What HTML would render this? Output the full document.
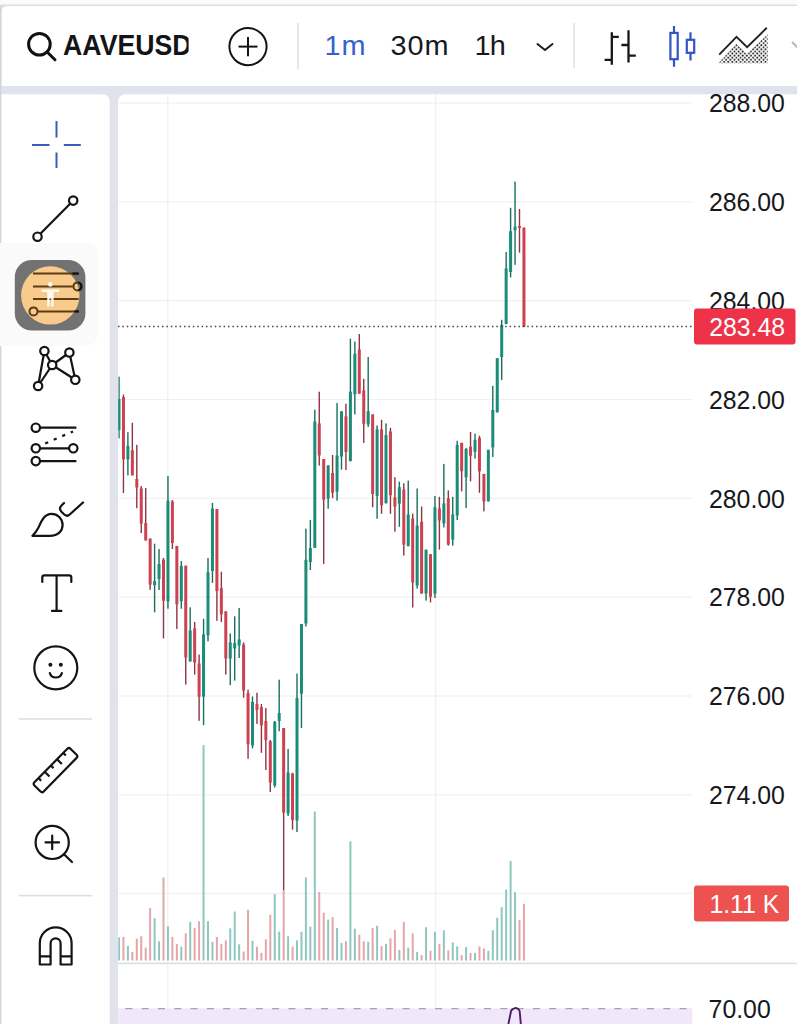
<!DOCTYPE html>
<html><head><meta charset="utf-8"><title>AAVEUSD</title>
<style>
html,body{margin:0;padding:0;background:#fff;}
body{width:797px;height:1024px;overflow:hidden;position:relative;font-family:"Liberation Sans",sans-serif;}
svg{position:absolute;left:0;top:0;display:block}
text{font-family:"Liberation Sans",sans-serif;}
.ax{font-size:26px;fill:#16181d}
.tf{font-size:27.5px;fill:#16181d}
</style></head><body>
<svg width="797" height="1024" viewBox="0 0 797 1024">
<defs>
<pattern id="dots" x="718.86" y="60.86" width="4.15" height="4.15" patternUnits="userSpaceOnUse">
<circle cx="1.04" cy="1.04" r="0.95" fill="#1c1c1c"/><circle cx="3.11" cy="3.11" r="0.95" fill="#1c1c1c"/>
</pattern>
<clipPath id="cp"><rect x="118.3" y="94" width="574" height="930"/></clipPath>
</defs>
<!-- page background -->
<rect x="0" y="0" width="797" height="1024" fill="#e0e3eb"/>
<rect x="0" y="0" width="797" height="5" fill="#fbfbfb"/>
<rect x="0" y="4.6" width="797" height="1.8" fill="#dcdcde"/>
<!-- header -->
<path d="M1.5 86 V12 Q1.5 6 8 6 H797 V86 Z" fill="#fff"/>
<rect x="0" y="6" width="1.5" height="1018" fill="#d6d6d9"/>
<!-- left toolbar panel -->
<path d="M1.5 94.3 H101.8 Q109.8 94.3 109.8 102.3 V1024 H1.5 Z" fill="#fff"/>
<!-- chart panel -->
<path d="M118 1024 V102.3 Q118 94.3 126 94.3 H797 V1024 Z" fill="#fff"/>
<!-- grid -->
<rect x="118.3" y="102.4" width="573.7" height="1.2" fill="#f0f0f2"/>
<rect x="118.3" y="201.2" width="573.7" height="1.2" fill="#f0f0f2"/>
<rect x="118.3" y="300.1" width="573.7" height="1.2" fill="#f0f0f2"/>
<rect x="118.3" y="398.9" width="573.7" height="1.2" fill="#f0f0f2"/>
<rect x="118.3" y="497.7" width="573.7" height="1.2" fill="#f0f0f2"/>
<rect x="118.3" y="596.5" width="573.7" height="1.2" fill="#f0f0f2"/>
<rect x="118.3" y="695.4" width="573.7" height="1.2" fill="#f0f0f2"/>
<rect x="118.3" y="794.2" width="573.7" height="1.2" fill="#f0f0f2"/>
<rect x="118.3" y="892.8" width="573.7" height="1.2" fill="#f0f0f2"/>
<rect x="167.2" y="94" width="1.2" height="930" fill="#f0f0f2"/>
<rect x="435.0" y="94" width="1.2" height="930" fill="#f0f0f2"/>
<!-- RSI pane -->
<rect x="118.3" y="1008.4" width="574" height="16" fill="#f1e6fa"/>
<line x1="118" y1="1008.6" x2="692.3" y2="1008.6" stroke="#a3a3ac" stroke-width="1.1" stroke-dasharray="7 9.3" stroke-dashoffset="8.9"/>
<path d="M508.4 1024 L511 1011.3 Q511.5 1009.6 513 1009 L515 1008.1 Q516.2 1007.8 517.4 1008.5 L519 1009.8 Q519.6 1010.4 519.7 1011.5 L520.8 1024" fill="none" stroke="#4b1d63" stroke-width="1.9" stroke-linejoin="round"/>
<!-- separator pane line -->
<rect x="118" y="962.6" width="679" height="1.6" fill="#d9dee2"/>
<!-- chart content -->
<g clip-path="url(#cp)">
<rect x="118.00" y="937.3" width="2" height="23.2" fill="#8fc7bf"/>
<rect x="122.45" y="936.9" width="2" height="23.6" fill="#e6a5aa"/>
<rect x="126.90" y="945.9" width="2" height="14.6" fill="#8fc7bf"/>
<rect x="131.35" y="952.0" width="2" height="8.5" fill="#e6a5aa"/>
<rect x="135.80" y="938.7" width="2" height="21.8" fill="#e6a5aa"/>
<rect x="140.25" y="936.3" width="2" height="24.2" fill="#e6a5aa"/>
<rect x="144.70" y="947.7" width="2" height="12.8" fill="#e6a5aa"/>
<rect x="149.15" y="908.2" width="2" height="52.3" fill="#e6a5aa"/>
<rect x="153.60" y="918.2" width="2" height="42.3" fill="#8fc7bf"/>
<rect x="158.05" y="941.3" width="2" height="19.2" fill="#8fc7bf"/>
<rect x="162.50" y="877.5" width="2" height="83.0" fill="#e6a5aa"/>
<rect x="166.95" y="926.3" width="2" height="34.2" fill="#8fc7bf"/>
<rect x="171.40" y="936.9" width="2" height="23.6" fill="#e6a5aa"/>
<rect x="175.85" y="943.9" width="2" height="16.6" fill="#e6a5aa"/>
<rect x="180.30" y="946.7" width="2" height="13.8" fill="#8fc7bf"/>
<rect x="184.75" y="933.3" width="2" height="27.2" fill="#e6a5aa"/>
<rect x="189.20" y="921.8" width="2" height="38.7" fill="#8fc7bf"/>
<rect x="193.65" y="927.9" width="2" height="32.6" fill="#e6a5aa"/>
<rect x="198.10" y="921.2" width="2" height="39.3" fill="#e6a5aa"/>
<rect x="202.55" y="745.0" width="2" height="215.5" fill="#8fc7bf"/>
<rect x="207.00" y="921.2" width="2" height="39.3" fill="#8fc7bf"/>
<rect x="211.45" y="941.9" width="2" height="18.6" fill="#8fc7bf"/>
<rect x="215.90" y="936.9" width="2" height="23.6" fill="#e6a5aa"/>
<rect x="220.35" y="943.9" width="2" height="16.6" fill="#e6a5aa"/>
<rect x="224.80" y="940.3" width="2" height="20.2" fill="#e6a5aa"/>
<rect x="229.25" y="928.3" width="2" height="32.2" fill="#8fc7bf"/>
<rect x="233.70" y="911.6" width="2" height="48.9" fill="#8fc7bf"/>
<rect x="238.15" y="944.3" width="2" height="16.2" fill="#8fc7bf"/>
<rect x="242.60" y="951.4" width="2" height="9.1" fill="#e6a5aa"/>
<rect x="247.05" y="909.8" width="2" height="50.7" fill="#e6a5aa"/>
<rect x="251.50" y="940.7" width="2" height="19.8" fill="#8fc7bf"/>
<rect x="255.95" y="946.7" width="2" height="13.8" fill="#e6a5aa"/>
<rect x="260.40" y="952.8" width="2" height="7.7" fill="#e6a5aa"/>
<rect x="264.85" y="939.3" width="2" height="21.2" fill="#e6a5aa"/>
<rect x="269.30" y="914.7" width="2" height="45.8" fill="#e6a5aa"/>
<rect x="273.75" y="894.1" width="2" height="66.4" fill="#8fc7bf"/>
<rect x="278.20" y="931.7" width="2" height="28.8" fill="#8fc7bf"/>
<rect x="282.65" y="890.0" width="2" height="70.5" fill="#e6a5aa"/>
<rect x="287.10" y="936.3" width="2" height="24.2" fill="#8fc7bf"/>
<rect x="291.55" y="946.7" width="2" height="13.8" fill="#e6a5aa"/>
<rect x="296.00" y="940.3" width="2" height="20.2" fill="#8fc7bf"/>
<rect x="300.45" y="931.7" width="2" height="28.8" fill="#8fc7bf"/>
<rect x="304.90" y="877.5" width="2" height="83.0" fill="#8fc7bf"/>
<rect x="309.35" y="926.7" width="2" height="33.8" fill="#8fc7bf"/>
<rect x="313.80" y="811.6" width="2" height="148.9" fill="#8fc7bf"/>
<rect x="318.25" y="892.1" width="2" height="68.4" fill="#e6a5aa"/>
<rect x="322.70" y="912.6" width="2" height="47.9" fill="#e6a5aa"/>
<rect x="327.15" y="919.6" width="2" height="40.9" fill="#8fc7bf"/>
<rect x="331.60" y="917.2" width="2" height="43.3" fill="#e6a5aa"/>
<rect x="336.05" y="927.9" width="2" height="32.6" fill="#8fc7bf"/>
<rect x="340.50" y="942.9" width="2" height="17.6" fill="#8fc7bf"/>
<rect x="344.95" y="941.3" width="2" height="19.2" fill="#e6a5aa"/>
<rect x="349.40" y="841.3" width="2" height="119.2" fill="#8fc7bf"/>
<rect x="353.85" y="928.7" width="2" height="31.8" fill="#8fc7bf"/>
<rect x="358.30" y="934.7" width="2" height="25.8" fill="#e6a5aa"/>
<rect x="362.75" y="941.3" width="2" height="19.2" fill="#e6a5aa"/>
<rect x="367.20" y="941.7" width="2" height="18.8" fill="#8fc7bf"/>
<rect x="371.65" y="927.9" width="2" height="32.6" fill="#e6a5aa"/>
<rect x="376.10" y="925.7" width="2" height="34.8" fill="#8fc7bf"/>
<rect x="380.55" y="946.3" width="2" height="14.2" fill="#e6a5aa"/>
<rect x="385.00" y="943.9" width="2" height="16.6" fill="#8fc7bf"/>
<rect x="389.45" y="938.3" width="2" height="22.2" fill="#e6a5aa"/>
<rect x="393.90" y="929.9" width="2" height="30.6" fill="#e6a5aa"/>
<rect x="398.35" y="950.0" width="2" height="10.5" fill="#8fc7bf"/>
<rect x="402.80" y="921.8" width="2" height="38.7" fill="#e6a5aa"/>
<rect x="407.25" y="947.7" width="2" height="12.8" fill="#8fc7bf"/>
<rect x="411.70" y="933.3" width="2" height="27.2" fill="#e6a5aa"/>
<rect x="416.15" y="952.0" width="2" height="8.5" fill="#8fc7bf"/>
<rect x="420.60" y="955.0" width="2" height="5.5" fill="#e6a5aa"/>
<rect x="425.05" y="927.3" width="2" height="33.2" fill="#8fc7bf"/>
<rect x="429.50" y="950.7" width="2" height="9.8" fill="#e6a5aa"/>
<rect x="433.95" y="931.7" width="2" height="28.8" fill="#8fc7bf"/>
<rect x="438.40" y="943.8" width="2" height="16.7" fill="#e6a5aa"/>
<rect x="442.85" y="930.3" width="2" height="30.2" fill="#8fc7bf"/>
<rect x="447.30" y="950.4" width="2" height="10.1" fill="#e6a5aa"/>
<rect x="451.75" y="942.4" width="2" height="18.1" fill="#8fc7bf"/>
<rect x="456.20" y="946.4" width="2" height="14.1" fill="#8fc7bf"/>
<rect x="460.65" y="955.0" width="2" height="5.5" fill="#e6a5aa"/>
<rect x="465.10" y="947.0" width="2" height="13.5" fill="#8fc7bf"/>
<rect x="469.55" y="953.0" width="2" height="7.5" fill="#e6a5aa"/>
<rect x="474.00" y="953.0" width="2" height="7.5" fill="#8fc7bf"/>
<rect x="478.45" y="946.4" width="2" height="14.1" fill="#e6a5aa"/>
<rect x="482.90" y="948.4" width="2" height="12.1" fill="#e6a5aa"/>
<rect x="487.35" y="950.8" width="2" height="9.7" fill="#8fc7bf"/>
<rect x="491.80" y="930.3" width="2" height="30.2" fill="#8fc7bf"/>
<rect x="496.25" y="917.7" width="2" height="42.8" fill="#8fc7bf"/>
<rect x="500.70" y="907.2" width="2" height="53.3" fill="#8fc7bf"/>
<rect x="505.15" y="889.6" width="2" height="70.9" fill="#8fc7bf"/>
<rect x="509.60" y="861.0" width="2" height="99.5" fill="#8fc7bf"/>
<rect x="514.05" y="892.2" width="2" height="68.3" fill="#8fc7bf"/>
<rect x="518.50" y="919.9" width="2" height="40.6" fill="#e6a5aa"/>
<rect x="522.95" y="903.8" width="2" height="56.7" fill="#e6a5aa"/>
<rect x="118.30" y="376.6" width="1.4" height="61.7" fill="#17705f"/>
<rect x="117.50" y="399.0" width="3" height="31.0" fill="#1a8c78"/>
<rect x="122.75" y="394.5" width="1.4" height="98.5" fill="#8f3441"/>
<rect x="121.95" y="397.0" width="3" height="62.4" fill="#cc4252"/>
<rect x="127.20" y="432.2" width="1.4" height="43.2" fill="#17705f"/>
<rect x="126.40" y="445.9" width="3" height="13.5" fill="#1a8c78"/>
<rect x="131.65" y="422.8" width="1.4" height="52.6" fill="#8f3441"/>
<rect x="130.85" y="450.3" width="3" height="25.1" fill="#cc4252"/>
<rect x="136.10" y="444.9" width="1.4" height="63.3" fill="#8f3441"/>
<rect x="135.30" y="479.0" width="3" height="8.5" fill="#cc4252"/>
<rect x="140.55" y="486.0" width="1.4" height="47.0" fill="#8f3441"/>
<rect x="139.75" y="488.5" width="3" height="35.1" fill="#cc4252"/>
<rect x="145.00" y="488.0" width="1.4" height="52.7" fill="#8f3441"/>
<rect x="144.20" y="523.0" width="3" height="17.3" fill="#cc4252"/>
<rect x="149.45" y="538.6" width="1.4" height="51.2" fill="#8f3441"/>
<rect x="148.65" y="538.6" width="3" height="46.0" fill="#cc4252"/>
<rect x="153.90" y="543.7" width="1.4" height="68.6" fill="#17705f"/>
<rect x="153.10" y="581.2" width="3" height="4.0" fill="#1a8c78"/>
<rect x="158.35" y="549.0" width="1.4" height="41.0" fill="#17705f"/>
<rect x="157.55" y="564.0" width="3" height="15.0" fill="#1a8c78"/>
<rect x="162.80" y="558.0" width="1.4" height="80.4" fill="#8f3441"/>
<rect x="162.00" y="559.7" width="3" height="41.0" fill="#cc4252"/>
<rect x="167.25" y="476.0" width="1.4" height="132.7" fill="#17705f"/>
<rect x="166.45" y="500.5" width="3" height="100.8" fill="#1a8c78"/>
<rect x="171.70" y="500.0" width="1.4" height="49.0" fill="#8f3441"/>
<rect x="170.90" y="501.5" width="3" height="41.5" fill="#cc4252"/>
<rect x="176.15" y="546.0" width="1.4" height="83.0" fill="#8f3441"/>
<rect x="175.35" y="546.0" width="3" height="58.3" fill="#cc4252"/>
<rect x="180.60" y="561.0" width="1.4" height="47.7" fill="#17705f"/>
<rect x="179.80" y="566.0" width="3" height="35.3" fill="#1a8c78"/>
<rect x="185.05" y="565.7" width="1.4" height="118.9" fill="#8f3441"/>
<rect x="184.25" y="565.7" width="3" height="91.8" fill="#cc4252"/>
<rect x="189.50" y="607.3" width="1.4" height="54.2" fill="#17705f"/>
<rect x="188.70" y="630.4" width="3" height="31.1" fill="#1a8c78"/>
<rect x="193.95" y="622.0" width="1.4" height="52.6" fill="#8f3441"/>
<rect x="193.15" y="628.4" width="3" height="34.1" fill="#cc4252"/>
<rect x="198.40" y="654.5" width="1.4" height="66.3" fill="#8f3441"/>
<rect x="197.60" y="663.5" width="3" height="33.2" fill="#cc4252"/>
<rect x="202.85" y="618.8" width="1.4" height="106.4" fill="#17705f"/>
<rect x="202.05" y="634.4" width="3" height="62.3" fill="#1a8c78"/>
<rect x="207.30" y="558.0" width="1.4" height="83.4" fill="#17705f"/>
<rect x="206.50" y="572.2" width="3" height="63.2" fill="#1a8c78"/>
<rect x="211.75" y="503.0" width="1.4" height="80.0" fill="#17705f"/>
<rect x="210.95" y="508.6" width="3" height="62.4" fill="#1a8c78"/>
<rect x="216.20" y="509.0" width="1.4" height="111.8" fill="#8f3441"/>
<rect x="215.40" y="509.0" width="3" height="82.0" fill="#cc4252"/>
<rect x="220.65" y="571.8" width="1.4" height="50.2" fill="#8f3441"/>
<rect x="219.85" y="588.2" width="3" height="26.1" fill="#cc4252"/>
<rect x="225.10" y="611.3" width="1.4" height="63.3" fill="#8f3441"/>
<rect x="224.30" y="611.3" width="3" height="47.2" fill="#cc4252"/>
<rect x="229.55" y="633.4" width="1.4" height="51.8" fill="#17705f"/>
<rect x="228.75" y="642.4" width="3" height="16.1" fill="#1a8c78"/>
<rect x="234.00" y="616.3" width="1.4" height="64.3" fill="#17705f"/>
<rect x="233.20" y="643.0" width="3" height="5.5" fill="#1a8c78"/>
<rect x="238.45" y="608.0" width="1.4" height="50.0" fill="#17705f"/>
<rect x="237.65" y="639.4" width="3" height="6.1" fill="#1a8c78"/>
<rect x="242.90" y="642.4" width="1.4" height="55.3" fill="#8f3441"/>
<rect x="242.10" y="644.5" width="3" height="46.1" fill="#cc4252"/>
<rect x="247.35" y="689.7" width="1.4" height="69.1" fill="#8f3441"/>
<rect x="246.55" y="693.0" width="3" height="51.3" fill="#cc4252"/>
<rect x="251.80" y="696.5" width="1.4" height="51.9" fill="#17705f"/>
<rect x="251.00" y="702.0" width="3" height="43.3" fill="#1a8c78"/>
<rect x="256.25" y="692.7" width="1.4" height="31.2" fill="#8f3441"/>
<rect x="255.45" y="704.0" width="3" height="6.0" fill="#cc4252"/>
<rect x="260.70" y="704.0" width="1.4" height="48.8" fill="#8f3441"/>
<rect x="259.90" y="707.0" width="3" height="18.3" fill="#cc4252"/>
<rect x="265.15" y="708.0" width="1.4" height="62.0" fill="#8f3441"/>
<rect x="264.35" y="721.0" width="3" height="19.0" fill="#cc4252"/>
<rect x="269.60" y="740.0" width="1.4" height="52.0" fill="#8f3441"/>
<rect x="268.80" y="741.3" width="3" height="41.2" fill="#cc4252"/>
<rect x="274.05" y="721.0" width="1.4" height="66.5" fill="#17705f"/>
<rect x="273.25" y="721.8" width="3" height="63.7" fill="#1a8c78"/>
<rect x="278.50" y="679.7" width="1.4" height="51.6" fill="#17705f"/>
<rect x="277.70" y="713.0" width="3" height="8.0" fill="#1a8c78"/>
<rect x="282.95" y="728.0" width="1.4" height="162.0" fill="#8f3441"/>
<rect x="282.15" y="728.0" width="3" height="84.6" fill="#cc4252"/>
<rect x="287.40" y="749.0" width="1.4" height="67.0" fill="#17705f"/>
<rect x="286.60" y="772.4" width="3" height="41.2" fill="#1a8c78"/>
<rect x="291.85" y="772.8" width="1.4" height="56.9" fill="#8f3441"/>
<rect x="291.05" y="773.5" width="3" height="46.5" fill="#cc4252"/>
<rect x="296.30" y="673.6" width="1.4" height="158.4" fill="#17705f"/>
<rect x="295.50" y="698.0" width="3" height="122.6" fill="#1a8c78"/>
<rect x="300.75" y="624.0" width="1.4" height="104.0" fill="#17705f"/>
<rect x="299.95" y="624.0" width="3" height="69.8" fill="#1a8c78"/>
<rect x="305.20" y="528.7" width="1.4" height="97.8" fill="#17705f"/>
<rect x="304.40" y="559.8" width="3" height="63.7" fill="#1a8c78"/>
<rect x="309.65" y="520.0" width="1.4" height="50.0" fill="#17705f"/>
<rect x="308.85" y="548.0" width="3" height="14.0" fill="#1a8c78"/>
<rect x="314.10" y="409.7" width="1.4" height="138.1" fill="#17705f"/>
<rect x="313.30" y="421.4" width="3" height="126.4" fill="#1a8c78"/>
<rect x="318.55" y="391.7" width="1.4" height="73.9" fill="#8f3441"/>
<rect x="317.75" y="423.4" width="3" height="32.1" fill="#cc4252"/>
<rect x="323.00" y="459.0" width="1.4" height="104.9" fill="#8f3441"/>
<rect x="322.20" y="459.0" width="3" height="40.7" fill="#cc4252"/>
<rect x="327.45" y="465.0" width="1.4" height="43.7" fill="#17705f"/>
<rect x="326.65" y="465.6" width="3" height="33.1" fill="#1a8c78"/>
<rect x="331.90" y="455.0" width="1.4" height="43.0" fill="#8f3441"/>
<rect x="331.10" y="473.0" width="3" height="19.7" fill="#cc4252"/>
<rect x="336.35" y="403.0" width="1.4" height="97.7" fill="#17705f"/>
<rect x="335.55" y="455.5" width="3" height="36.2" fill="#1a8c78"/>
<rect x="340.80" y="411.3" width="1.4" height="58.3" fill="#17705f"/>
<rect x="340.00" y="411.3" width="3" height="45.2" fill="#1a8c78"/>
<rect x="345.25" y="403.7" width="1.4" height="66.3" fill="#8f3441"/>
<rect x="344.45" y="416.4" width="3" height="35.6" fill="#cc4252"/>
<rect x="349.70" y="338.7" width="1.4" height="122.8" fill="#17705f"/>
<rect x="348.90" y="391.7" width="3" height="69.3" fill="#1a8c78"/>
<rect x="354.15" y="341.5" width="1.4" height="72.9" fill="#17705f"/>
<rect x="353.35" y="353.7" width="3" height="40.6" fill="#1a8c78"/>
<rect x="358.60" y="334.0" width="1.4" height="59.7" fill="#8f3441"/>
<rect x="357.80" y="349.5" width="3" height="44.2" fill="#cc4252"/>
<rect x="363.05" y="378.8" width="1.4" height="64.2" fill="#8f3441"/>
<rect x="362.25" y="390.3" width="3" height="33.5" fill="#cc4252"/>
<rect x="367.50" y="357.0" width="1.4" height="70.0" fill="#17705f"/>
<rect x="366.70" y="411.3" width="3" height="13.1" fill="#1a8c78"/>
<rect x="371.95" y="414.4" width="1.4" height="92.9" fill="#8f3441"/>
<rect x="371.15" y="414.4" width="3" height="79.6" fill="#cc4252"/>
<rect x="376.40" y="425.4" width="1.4" height="93.4" fill="#17705f"/>
<rect x="375.60" y="429.4" width="3" height="66.6" fill="#1a8c78"/>
<rect x="380.85" y="419.8" width="1.4" height="94.0" fill="#8f3441"/>
<rect x="380.05" y="429.4" width="3" height="75.9" fill="#cc4252"/>
<rect x="385.30" y="423.4" width="1.4" height="79.9" fill="#17705f"/>
<rect x="384.50" y="435.0" width="3" height="68.3" fill="#1a8c78"/>
<rect x="389.75" y="427.8" width="1.4" height="86.0" fill="#8f3441"/>
<rect x="388.95" y="431.4" width="3" height="63.9" fill="#cc4252"/>
<rect x="394.20" y="477.2" width="1.4" height="54.5" fill="#8f3441"/>
<rect x="393.40" y="497.3" width="3" height="9.4" fill="#cc4252"/>
<rect x="398.65" y="481.6" width="1.4" height="45.2" fill="#17705f"/>
<rect x="397.85" y="487.2" width="3" height="16.5" fill="#1a8c78"/>
<rect x="403.10" y="483.3" width="1.4" height="72.3" fill="#8f3441"/>
<rect x="402.30" y="489.4" width="3" height="55.2" fill="#cc4252"/>
<rect x="407.55" y="480.6" width="1.4" height="65.6" fill="#17705f"/>
<rect x="406.75" y="514.5" width="3" height="31.7" fill="#1a8c78"/>
<rect x="412.00" y="513.5" width="1.4" height="94.0" fill="#8f3441"/>
<rect x="411.20" y="518.5" width="3" height="64.0" fill="#cc4252"/>
<rect x="416.45" y="488.5" width="1.4" height="100.1" fill="#17705f"/>
<rect x="415.65" y="525.5" width="3" height="60.0" fill="#1a8c78"/>
<rect x="420.90" y="506.5" width="1.4" height="87.1" fill="#8f3441"/>
<rect x="420.10" y="521.8" width="3" height="71.8" fill="#cc4252"/>
<rect x="425.35" y="549.7" width="1.4" height="50.9" fill="#17705f"/>
<rect x="424.55" y="549.7" width="3" height="43.9" fill="#1a8c78"/>
<rect x="429.80" y="554.2" width="1.4" height="48.2" fill="#8f3441"/>
<rect x="429.00" y="554.2" width="3" height="42.4" fill="#cc4252"/>
<rect x="434.25" y="496.0" width="1.4" height="101.9" fill="#17705f"/>
<rect x="433.45" y="507.2" width="3" height="86.4" fill="#1a8c78"/>
<rect x="438.70" y="496.8" width="1.4" height="52.8" fill="#8f3441"/>
<rect x="437.90" y="508.4" width="3" height="12.1" fill="#cc4252"/>
<rect x="443.15" y="463.9" width="1.4" height="63.6" fill="#17705f"/>
<rect x="442.35" y="503.4" width="3" height="20.1" fill="#1a8c78"/>
<rect x="447.60" y="490.4" width="1.4" height="55.2" fill="#8f3441"/>
<rect x="446.80" y="498.4" width="3" height="46.2" fill="#cc4252"/>
<rect x="452.05" y="496.8" width="1.4" height="48.8" fill="#17705f"/>
<rect x="451.25" y="514.5" width="3" height="25.1" fill="#1a8c78"/>
<rect x="456.50" y="440.8" width="1.4" height="79.2" fill="#17705f"/>
<rect x="455.70" y="445.0" width="3" height="70.5" fill="#1a8c78"/>
<rect x="460.95" y="442.8" width="1.4" height="48.6" fill="#8f3441"/>
<rect x="460.15" y="442.8" width="3" height="28.5" fill="#cc4252"/>
<rect x="465.40" y="447.8" width="1.4" height="60.2" fill="#17705f"/>
<rect x="464.60" y="449.0" width="3" height="28.3" fill="#1a8c78"/>
<rect x="469.85" y="432.0" width="1.4" height="49.3" fill="#8f3441"/>
<rect x="469.05" y="446.6" width="3" height="9.2" fill="#cc4252"/>
<rect x="474.30" y="433.7" width="1.4" height="24.9" fill="#17705f"/>
<rect x="473.50" y="439.8" width="3" height="12.0" fill="#1a8c78"/>
<rect x="478.75" y="435.7" width="1.4" height="57.1" fill="#8f3441"/>
<rect x="477.95" y="437.8" width="3" height="33.5" fill="#cc4252"/>
<rect x="483.20" y="473.9" width="1.4" height="37.5" fill="#8f3441"/>
<rect x="482.40" y="473.9" width="3" height="27.5" fill="#cc4252"/>
<rect x="487.65" y="449.8" width="1.4" height="51.6" fill="#17705f"/>
<rect x="486.85" y="449.8" width="3" height="51.6" fill="#1a8c78"/>
<rect x="492.10" y="385.9" width="1.4" height="71.1" fill="#17705f"/>
<rect x="491.30" y="410.0" width="3" height="37.4" fill="#1a8c78"/>
<rect x="496.55" y="358.2" width="1.4" height="54.2" fill="#17705f"/>
<rect x="495.75" y="358.2" width="3" height="54.2" fill="#1a8c78"/>
<rect x="501.00" y="319.8" width="1.4" height="60.1" fill="#17705f"/>
<rect x="500.20" y="324.8" width="3" height="32.2" fill="#1a8c78"/>
<rect x="505.45" y="252.0" width="1.4" height="72.2" fill="#17705f"/>
<rect x="504.65" y="268.4" width="3" height="55.6" fill="#1a8c78"/>
<rect x="509.90" y="207.8" width="1.4" height="69.6" fill="#17705f"/>
<rect x="509.10" y="231.2" width="3" height="40.8" fill="#1a8c78"/>
<rect x="514.35" y="181.6" width="1.4" height="83.2" fill="#17705f"/>
<rect x="513.55" y="226.6" width="3" height="3.6" fill="#1a8c78"/>
<rect x="518.80" y="209.0" width="1.4" height="43.7" fill="#8f3441"/>
<rect x="518.00" y="226.0" width="3" height="2.0" fill="#cc4252"/>
<rect x="523.25" y="227.6" width="1.4" height="99.4" fill="#8f3441"/>
<rect x="522.45" y="227.6" width="3" height="99.4" fill="#cc4252"/>
</g>
<!-- price line -->
<line x1="118" y1="326.5" x2="694" y2="326.5" stroke="#4a4346" stroke-width="1.5" stroke-dasharray="1.5 2.9"/>
<!-- axis labels -->
<text transform="translate(709.0 112.4) scale(0.955 1)" class="ax">288.00</text>
<text transform="translate(709.0 211.2) scale(0.955 1)" class="ax">286.00</text>
<text transform="translate(709.0 310.0) scale(0.955 1)" class="ax">284.00</text>
<text transform="translate(709.0 408.8) scale(0.955 1)" class="ax">282.00</text>
<text transform="translate(709.0 507.6) scale(0.955 1)" class="ax">280.00</text>
<text transform="translate(709.0 606.4) scale(0.955 1)" class="ax">278.00</text>
<text transform="translate(709.0 705.2) scale(0.955 1)" class="ax">276.00</text>
<text transform="translate(709.0 804.0) scale(0.955 1)" class="ax">274.00</text>
<text transform="translate(708.6 1017.6) scale(0.955 1)" class="ax">70.00</text>
<rect x="694" y="308.6" width="101.5" height="35.8" rx="3" fill="#ee3348"/>
<text transform="translate(709.2 336.2) scale(0.955 1)" class="ax" style="fill:#fff">283.48</text>
<rect x="694" y="885.6" width="95" height="36" rx="3" fill="#ec5350"/>
<text transform="translate(709.4 912.9) scale(0.955 1)" class="ax" style="fill:#fff">1.11 K</text>

<!-- HEADER CONTENT -->
<g fill="none" stroke="#101114" stroke-width="3" stroke-linecap="round">
<circle cx="39.4" cy="44.2" r="10.8"/><line x1="47.4" y1="52.2" x2="55" y2="59.8"/>
</g>
<text transform="translate(63.1 55.2) scale(0.89 1)" style="font-size:30px;font-weight:bold;fill:#131417">AAVEUS<tspan>D</tspan></text>
<rect x="188.6" y="28" width="14" height="34" fill="#fff"/>
<g fill="none" stroke="#131417" stroke-width="2">
<circle cx="248" cy="46.6" r="18.6"/><line x1="238.5" y1="46.6" x2="257.5" y2="46.6"/><line x1="248" y1="37" x2="248" y2="56.2"/>
</g>
<rect x="297.3" y="23" width="1.6" height="46" fill="#e2e2e5"/>
<text transform="translate(324.6 54.8) scale(1.05 1)" class="tf" style="fill:#3560d0;letter-spacing:0.8px">1m</text>
<text transform="translate(390.6 54.8) scale(1.05 1)" class="tf" style="letter-spacing:0.8px">30m</text>
<text transform="translate(474.6 54.8) scale(1.05 1)" class="tf" style="letter-spacing:-0.8px">1h</text>
<path d="M537.5 44 L545 50 L552.5 44" fill="none" stroke="#1b1c20" stroke-width="2" stroke-linecap="round" stroke-linejoin="round"/>
<rect x="573.3" y="23" width="1.6" height="45" fill="#e2e2e5"/>
<!-- bars icon -->
<g fill="none" stroke="#16171a" stroke-width="2.3">
<path d="M611.8 32.2 V64.8 M611.8 36.8 H618.8 M604.6 59.9 H611.8"/>
<path d="M628.5 30.2 V62.6 M621.4 45 H628.5 M628.5 55.7 H635.8"/>
</g>
<!-- candles icon -->
<g fill="none" stroke="#3255c3" stroke-width="2.2">
<path d="M674 26 V33 M674 59.2 V66.8 M690.5 32.2 V39.8 M690.5 52.8 V60.5"/>
<rect x="670.4" y="32.9" width="7.3" height="26.3"/>
<rect x="686.8" y="39.8" width="7.4" height="13"/>
</g>
<!-- area icon -->
<path d="M718.4 63.2 L736.5 43.6 L747 53.4 L767.6 34.4 V63.2 Z" fill="url(#dots)"/>
<path d="M719.2 54.6 L736.5 36.8 L747.1 47.2 L766.8 27.8" fill="none" stroke="#222" stroke-width="1.9"/>
<path d="M792 42 L797.5 47.5" fill="none" stroke="#b8b8bc" stroke-width="2"/>

<!-- LEFT TOOLBAR -->
<!-- crosshair -->
<g stroke="#3d5bb5" stroke-width="2" fill="none">
<path d="M56.5 121 V137.5 M56.5 152.5 V168 M32 145 H49.5 M63.8 145 H80.8"/>
</g>
<!-- trend line -->
<g stroke="#131417" stroke-width="2.2" fill="none">
<circle cx="73.2" cy="200.6" r="4.2"/><circle cx="37.5" cy="236.7" r="4.2"/>
<line x1="40.6" y1="233.6" x2="70.1" y2="203.7"/>
</g>
<!-- highlighted fib icon -->
<path d="M0 243 H84 Q98 243 98 257 V332 Q98 346 84 346 H0 Z" fill="#fafafa"/>
<rect x="14.8" y="260" width="70.6" height="70.6" rx="17" fill="#727272"/>
<circle cx="50.3" cy="295.4" r="29.2" fill="#f8cb8c"/>
<g stroke="#5a3d14" stroke-width="2" fill="none">
<path d="M33 273.6 H78.6 M33 286.4 H73.4 M33 299 H78.6 M37.6 311.4 H78.6"/>
<circle cx="77.5" cy="286.4" r="4"/><circle cx="33.5" cy="311.4" r="4"/>
</g>
<g stroke="#141414" stroke-width="2.2" fill="none">
<path d="M72.5 273.6 H78.8 M74.5 311.4 H78.8"/>
<path d="M78.3 282.5 A4 4 0 0 1 78.3 290.3"/>
</g>
<g fill="#fff" opacity="0.92">
<circle cx="50.3" cy="284.4" r="2.3"/>
<path d="M41.5 289.6 H59.3 V292 H53.6 V306.5 H51.2 V298.5 H49.6 V306.5 H47.2 V292 H41.5 Z"/>
</g>
<!-- xabcd -->
<g stroke="#131417" stroke-width="2.2" fill="#fff" stroke-linejoin="round">
<path d="M44.4 351 L38.1 386 L52.2 365 Z M52.2 365 L69.4 352.5 L75.3 379.8 Z" fill="none"/>
<circle cx="44.4" cy="351" r="4.2"/><circle cx="69.4" cy="352.5" r="4.2"/><circle cx="52.2" cy="365" r="4.2"/><circle cx="75.3" cy="379.8" r="4.2"/><circle cx="38.1" cy="386" r="4.2"/>
</g>
<!-- forecast -->
<g stroke="#131417" stroke-width="2.2" fill="none">
<circle cx="35.8" cy="427.7" r="4.2"/><circle cx="35.8" cy="448.3" r="4.2"/><circle cx="73.3" cy="448.3" r="4.2"/><circle cx="35.8" cy="461.1" r="4.2"/>
<path d="M40 427.7 H76.4 M40 448.3 H69.1 M40 461.1 H76.4"/>
<line x1="45.2" y1="443.6" x2="73" y2="431.4" stroke-dasharray="3.2 6.1"/>
</g>
<!-- brush -->
<g stroke="#131417" stroke-width="2.2" fill="none" stroke-linecap="round" stroke-linejoin="round">
<path d="M32.4 535.8 H50 C58 535.8 62.6 531 62.6 525 C62.6 518.5 57.5 513.8 51.5 513.8 C44 513.8 41 522 38.5 527.5 C37 530.5 35 533.5 32.4 535.8 Z"/>
<path d="M64 503 L61.5 505.5 C59.5 507.5 59.8 510 61.5 511.8 L64 514.3 C66 516.2 68.3 516 70 514.3 L83 502.5"/>
</g>
<!-- text T -->
<g stroke="#131417" stroke-width="2.2" fill="none">
<path d="M42.3 582 V577.3 Q42.3 575.3 44.3 575.3 H69.3 Q71.3 575.3 71.3 577.3 V582 M56.6 575.3 V610.9 M52 610.9 H61.4" stroke-linecap="round"/>
</g>
<!-- smiley -->
<g stroke="#131417" stroke-width="2.2" fill="none" stroke-linecap="round">
<circle cx="55.8" cy="667.8" r="21.5"/>
<path d="M49.8 673 C51.4 679 60.3 679 61.9 673"/>
</g>
<circle cx="50.4" cy="664.7" r="2" fill="#131417"/><circle cx="60.8" cy="664.7" r="2" fill="#131417"/>
<rect x="18.4" y="718.2" width="74" height="1.6" fill="#dfdfe2"/>
<!-- ruler -->
<g transform="translate(55.5 770.1) rotate(-45.5)" stroke="#131417" stroke-width="2.2" fill="none" stroke-linejoin="round">
<rect x="-25.7" y="-6.5" width="51.4" height="13" rx="2.2"/>
<path d="M-17.6 -6.5 V-2.8 M-8.8 -6.5 V0.2 M0 -6.5 V-2.8 M8.8 -6.5 V0.2 M17.6 -6.5 V-2.8"/>
</g>
<!-- zoom in -->
<g stroke="#131417" stroke-width="2.2" fill="none" stroke-linecap="round">
<circle cx="52.2" cy="842.4" r="16.6"/><path d="M45.5 842.4 H59 M52.2 835.6 V849.2 M64 854.2 L72 862"/>
</g>
<rect x="18.4" y="894.8" width="74" height="1.6" fill="#dfdfe2"/>
<!-- magnet -->
<g stroke="#131417" stroke-width="2.2" fill="none" stroke-linejoin="round">
<path d="M39.8 964.5 V943.2 A15.9 15.9 0 0 1 71.6 943.2 V964.5 H60.6 V943.4 A5 5 0 0 0 50.6 943.4 V964.5 Z"/>
<path d="M39.8 956.3 H50.6 M60.6 956.3 H71.6"/>
</g>
</svg>
</body></html>
